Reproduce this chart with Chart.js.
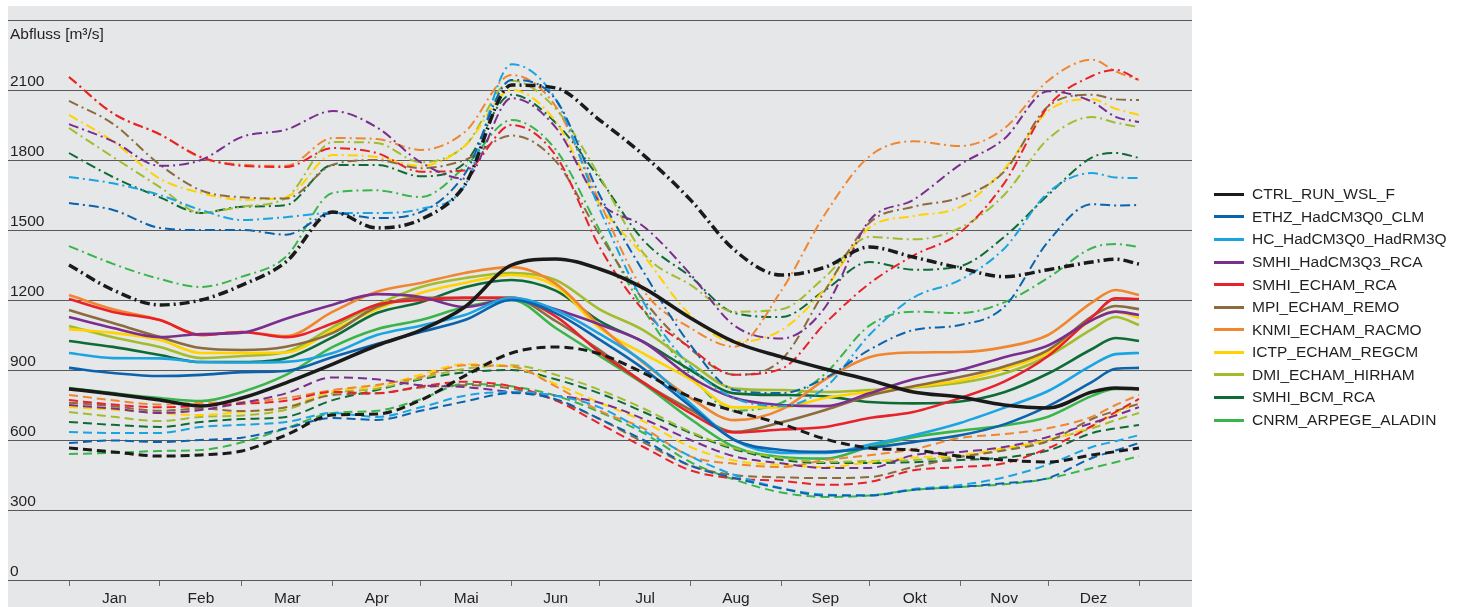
<!DOCTYPE html>
<html>
<head>
<meta charset="utf-8">
<script src="https://cdn.jsdelivr.net/npm/chart.js@4/dist/chart.umd.min.js"></script>
<style>
  html, body { margin: 0; padding: 0; background: #ffffff; }
  #wrap { position: relative; width: 1462px; height: 607px; }
  #chart { position: absolute; left: 0; top: 0; }
  #legend { position: absolute; left: 1214px; top: 0; }
  .row { position: absolute; left: 0; height: 20px; display: flex; align-items: center;
         white-space: nowrap; font: 15.5px 'Liberation Sans', Arial, sans-serif; color: #231f20; }
  .swatch { width: 30px; height: 3px; margin-right: 8px; }
</style>
</head>
<body>
<div id="wrap">
  <canvas id="chart" width="1462" height="607"></canvas>
  <div id="legend"></div>
</div>
<script>
const days = [0, 15, 31, 45, 59, 74, 90, 105, 120, 135, 151, 166, 181, 196, 212, 227, 243, 258, 273, 288, 304, 319, 334, 349, 357, 365];

// Monatsgrenzen und Monatsnamen
const monthStarts = [0, 31, 59, 90, 120, 151, 181, 212, 243, 273, 304, 334, 365];
const monthNames = ['Jan', 'Feb', 'Mar', 'Apr', 'Mai', 'Jun', 'Jul', 'Aug', 'Sep', 'Okt', 'Nov', 'Dez'];
const yTicks = [0, 300, 600, 900, 1200, 1500, 1800, 2100, 2400];

// Modellnamen und Farben
const modelNames = ['CTRL_RUN_WSL_F', 'ETHZ_HadCM3Q0_CLM', 'HC_HadCM3Q0_HadRM3Q', 'SMHI_HadCM3Q3_RCA',
  'SMHI_ECHAM_RCA', 'MPI_ECHAM_REMO', 'KNMI_ECHAM_RACMO', 'ICTP_ECHAM_REGCM', 'DMI_ECHAM_HIRHAM',
  'SMHI_BCM_RCA', 'CNRM_ARPEGE_ALADIN'];
const modelColors = ['#1a1a1a', '#0b63ae', '#1aa4e1', '#7a2e8e', '#e8212b', '#8c6b3e',
  '#f0862f', '#ffd200', '#a3bc2d', '#0e6b35', '#3ab54a'];

// Abfluss [m3/s] - durchgezogen / gestrichelt / strichpunktiert
const ctrlSolid   = [819, 797, 771, 746, 780, 845, 925, 1005, 1071, 1170, 1350, 1376, 1333, 1251, 1123, 1020, 956, 904, 857, 806, 784, 750, 737, 806, 823, 819];
const ctrlDashed  = [566, 549, 531, 536, 553, 621, 707, 711, 771, 875, 973, 999, 969, 887, 784, 724, 669, 604, 566, 557, 530, 514, 506, 536, 550, 566];
const ctrlDashDot = [1350, 1243, 1179, 1200, 1264, 1363, 1577, 1509, 1545, 1693, 2121, 2109, 1971, 1821, 1629, 1414, 1307, 1341, 1427, 1384, 1337, 1300, 1330, 1363, 1375, 1354];

const ethzSolid   = [909, 887, 874, 879, 891, 896, 956, 1011, 1063, 1114, 1200, 1144, 1030, 905, 745, 600, 557, 549, 566, 591, 620, 667, 745, 849, 905, 909];
const ethzDashed  = [587, 598, 591, 600, 610, 650, 694, 686, 725, 765, 801, 775, 690, 600, 490, 437, 392, 362, 362, 386, 399, 415, 437, 523, 555, 587];
const ethzDashDot = [1616, 1586, 1509, 1500, 1500, 1480, 1573, 1551, 1577, 1740, 2143, 2060, 1650, 1320, 1007, 814, 801, 866, 986, 1071, 1093, 1170, 1450, 1611, 1605, 1607];

const hcSolid     = [973, 951, 950, 934, 932, 935, 973, 1050, 1090, 1136, 1209, 1157, 1055, 935, 757, 600, 545, 544, 580, 620, 673, 738, 810, 921, 968, 973];
const hcDashed    = [634, 630, 630, 656, 665, 677, 716, 699, 740, 790, 806, 790, 740, 640, 530, 450, 394, 366, 363, 390, 407, 440, 495, 570, 595, 621];
const hcDashDot   = [1727, 1700, 1650, 1586, 1543, 1555, 1573, 1573, 1590, 1690, 2210, 2060, 1590, 1190, 915, 780, 745, 825, 1050, 1210, 1286, 1420, 1660, 1744, 1725, 1723];

const smhiQ3Solid   = [1127, 1080, 1041, 1054, 1060, 1120, 1180, 1225, 1213, 1170, 1205, 1160, 1095, 1020, 870, 780, 750, 745, 800, 860, 900, 955, 1005, 1114, 1150, 1136];
const smhiQ3Dashed  = [750, 735, 716, 729, 759, 800, 868, 860, 835, 827, 806, 790, 760, 690, 600, 530, 500, 480, 480, 535, 549, 570, 613, 673, 705, 741];
const smhiQ3DashDot = [1954, 1880, 1775, 1800, 1899, 1930, 2010, 1940, 1790, 1720, 2065, 1940, 1620, 1515, 1310, 1090, 1035, 1170, 1540, 1629, 1780, 1890, 2095, 2050, 1985, 1963];

const smhiEchSolid   = [1204, 1149, 1114, 1050, 1063, 1041, 1100, 1180, 1200, 1209, 1209, 1130, 975, 846, 715, 632, 645, 656, 694, 720, 780, 850, 960, 1127, 1207, 1204];
const smhiEchDashed  = [771, 752, 740, 746, 755, 768, 806, 800, 830, 850, 830, 770, 670, 570, 470, 435, 425, 408, 420, 470, 484, 500, 565, 660, 720, 776];
const smhiEchDashDot = [2156, 2000, 1910, 1813, 1775, 1770, 1851, 1830, 1750, 1755, 1950, 1820, 1427, 1155, 995, 880, 905, 1101, 1270, 1390, 1490, 1700, 2030, 2160, 2186, 2143];

const mpiSolid   = [1157, 1101, 1041, 994, 986, 1000, 1059, 1170, 1209, 1209, 1209, 1110, 985, 845, 730, 635, 676, 729, 790, 830, 870, 915, 985, 1130, 1174, 1161];
const mpiDashed  = [760, 745, 725, 735, 724, 740, 793, 800, 825, 835, 820, 770, 690, 590, 490, 450, 440, 437, 441, 484, 527, 555, 595, 690, 725, 755];
const mpiDashDot = [2053, 1955, 1780, 1670, 1640, 1635, 1780, 1800, 1765, 1800, 1905, 1795, 1480, 1200, 990, 880, 943, 1243, 1530, 1599, 1640, 1750, 2030, 2080, 2060, 2057];

const knmiSolid   = [1221, 1160, 1114, 1050, 1063, 1045, 1150, 1235, 1273, 1316, 1341, 1270, 1090, 930, 780, 685, 730, 860, 955, 975, 977, 998, 1050, 1190, 1243, 1221];
const knmiDashed  = [793, 770, 752, 759, 762, 780, 814, 836, 870, 920, 915, 830, 725, 650, 530, 498, 484, 514, 535, 560, 609, 625, 650, 700, 750, 793];
const knmiDashDot = [2156, 2000, 1910, 1810, 1780, 1775, 1894, 1890, 1843, 1920, 2164, 2030, 1620, 1240, 1080, 1000, 1240, 1570, 1815, 1880, 1860, 1935, 2140, 2230, 2180, 2143];

const ictpSolid   = [1075, 1059, 1029, 973, 973, 975, 1070, 1160, 1230, 1273, 1307, 1260, 1080, 970, 860, 740, 740, 780, 806, 827, 855, 905, 975, 1114, 1150, 1123];
const ictpDashed  = [741, 730, 715, 707, 720, 740, 810, 830, 880, 925, 915, 840, 760, 680, 570, 512, 493, 484, 505, 525, 535, 565, 600, 660, 715, 760];
const ictpDashDot = [1993, 1880, 1720, 1659, 1630, 1641, 1821, 1813, 1775, 1860, 2100, 1965, 1610, 1390, 1135, 1020, 1071, 1250, 1510, 1560, 1599, 1760, 2010, 2060, 2020, 1993];

const dmiSolid   = [1089, 1040, 999, 951, 960, 977, 1084, 1180, 1256, 1294, 1316, 1286, 1160, 1070, 930, 820, 814, 806, 814, 825, 845, 885, 960, 1075, 1127, 1093];
const dmiDashed  = [720, 700, 681, 699, 705, 730, 800, 820, 865, 905, 920, 880, 815, 735, 635, 565, 523, 506, 510, 514, 531, 560, 600, 650, 685, 716];
const dmiDashDot = [1937, 1813, 1684, 1573, 1600, 1637, 1877, 1873, 1790, 1860, 2140, 2020, 1730, 1400, 1265, 1150, 1160, 1300, 1470, 1460, 1509, 1650, 1890, 1984, 1960, 1941];

const bcmSolid   = [1024, 999, 964, 934, 934, 950, 1041, 1144, 1190, 1255, 1286, 1240, 1110, 1020, 900, 800, 793, 787, 763, 757, 765, 805, 885, 990, 1037, 1024];
const bcmDashed  = [677, 665, 656, 677, 690, 699, 771, 814, 860, 890, 900, 860, 800, 720, 630, 560, 515, 501, 501, 505, 514, 525, 555, 630, 650, 664];
const bcmDashDot = [1830, 1727, 1640, 1573, 1600, 1607, 1779, 1779, 1730, 1787, 2080, 1960, 1720, 1455, 1300, 1144, 1127, 1243, 1363, 1330, 1345, 1470, 1650, 1811, 1830, 1809];

const cnrmSolid   = [823, 801, 780, 767, 806, 879, 999, 1075, 1114, 1170, 1200, 1080, 960, 840, 690, 570, 527, 520, 570, 612, 640, 662, 700, 789, 819, 819];
const cnrmDashed  = [540, 545, 553, 557, 590, 650, 716, 725, 775, 840, 830, 790, 720, 630, 505, 430, 375, 356, 362, 386, 399, 410, 435, 480, 505, 531];
const cnrmDashDot = [1431, 1355, 1290, 1256, 1300, 1385, 1659, 1670, 1641, 1770, 1971, 1845, 1500, 1160, 880, 725, 760, 885, 1090, 1150, 1144, 1190, 1295, 1423, 1440, 1427];

const seriesByModel = [
  [ctrlSolid, ctrlDashed, ctrlDashDot],
  [ethzSolid, ethzDashed, ethzDashDot],
  [hcSolid, hcDashed, hcDashDot],
  [smhiQ3Solid, smhiQ3Dashed, smhiQ3DashDot],
  [smhiEchSolid, smhiEchDashed, smhiEchDashDot],
  [mpiSolid, mpiDashed, mpiDashDot],
  [knmiSolid, knmiDashed, knmiDashDot],
  [ictpSolid, ictpDashed, ictpDashDot],
  [dmiSolid, dmiDashed, dmiDashDot],
  [bcmSolid, bcmDashed, bcmDashDot],
  [cnrmSolid, cnrmDashed, cnrmDashDot]
];

// Linienstile: durchgezogen, gestrichelt, Strich-Punkt
const styles = [
  { dash: [], width: 2.6, ctrlWidth: 3.5 },
  { dash: [9, 5], width: 2, ctrlWidth: 3 },
  { dash: [10, 4, 2, 4], width: 2, ctrlWidth: 3.5 }
];

const PX_PER_DAY = 1070 / 365;
const X_MIN = -61 / PX_PER_DAY;
const X_MAX = 365 + 53 / PX_PER_DAY;

function buildDatasets() {
  const sets = [];
  // CTRL zuerst, damit es oben liegt
  seriesByModel.forEach((group, m) => {
    group.forEach((values, s) => {
      const st = styles[s];
      sets.push({
        label: modelNames[m] + '_' + s,
        data: days.map((d, i) => ({ x: d, y: values[i] })),
        borderColor: modelColors[m],
        backgroundColor: modelColors[m],
        borderWidth: m === 0 ? st.ctrlWidth : st.width,
        borderDash: st.dash,
        pointRadius: 0,
        cubicInterpolationMode: 'monotone',
        fill: false
      });
    });
  });
  return sets;
}

const monthMids = monthStarts.slice(0, 12).map((d, i) => (d + monthStarts[i + 1]) / 2);

// grauer Hintergrund und Achsentitel
const backdrop = {
  id: 'backdrop',
  beforeDraw(chart) {
    const c = chart.ctx;
    c.save();
    c.fillStyle = '#e6e7e9';
    c.fillRect(8, 6, 1184, 601);
    c.restore();
  },
  afterDraw(chart) {
    const c = chart.ctx;
    c.save();
    c.fillStyle = '#231f20';
    c.font = "15.5px 'Liberation Sans', Arial, sans-serif";
    c.textBaseline = 'alphabetic';
    c.fillText('Abfluss [m³/s]', 10, 39);
    c.restore();
  }
};

Chart.defaults.font.family = "'Liberation Sans', Arial, sans-serif";

new Chart(document.getElementById('chart'), {
  type: 'line',
  data: { datasets: buildDatasets() },
  plugins: [backdrop],
  options: {
    responsive: false,
    animation: false,
    events: [],
    layout: { padding: { left: 8, right: 270, top: 20, bottom: 0 } },
    plugins: { legend: { display: false }, tooltip: { enabled: false } },
    scales: {
      x: {
        type: 'linear',
        min: X_MIN,
        max: X_MAX,
        afterFit(scale) { scale.height = 27; },
        afterBuildTicks(scale) {
          scale.ticks = monthStarts.concat(monthMids).sort((a, b) => a - b).map(v => ({ value: v }));
        },
        border: { display: false },
        grid: {
          drawOnChartArea: false,
          tickLength: 6,
          lineWidth: 1,
          color: ctx => (ctx.tick && monthStarts.includes(ctx.tick.value)) ? '#6d6e71' : 'rgba(0,0,0,0)'
        },
        ticks: {
          autoSkip: false,
          maxRotation: 0,
          padding: 3,
          color: '#231f20',
          font: { size: 15.5 },
          callback: value => {
            const i = monthMids.indexOf(value);
            return i >= 0 ? monthNames[i] : '';
          }
        }
      },
      y: {
        min: 0,
        max: 2400,
        afterFit(scale) { scale.width = 0; },
        afterBuildTicks(scale) { scale.ticks = yTicks.map(v => ({ value: v })); },
        border: { display: false },
        grid: { color: '#58595b', lineWidth: 1, drawTicks: false },
        ticks: {
          mirror: true,
          padding: 2,
          labelOffset: -8,
          color: '#231f20',
          font: { size: 15.5 },
          callback: value => (value === 2400 ? '' : String(value))
        }
      }
    }
  }
});

// Legende: nur die durchgezogenen Linien
const legend = document.getElementById('legend');
modelNames.forEach((name, i) => {
  const row = document.createElement('div');
  row.className = 'row';
  row.style.top = (194.3 + i * 22.57 - 10) + 'px';
  row.innerHTML = `<span class="swatch" style="background:${modelColors[i]}"></span><span>${name}</span>`;
  legend.appendChild(row);
});
</script>
</body>
</html>
